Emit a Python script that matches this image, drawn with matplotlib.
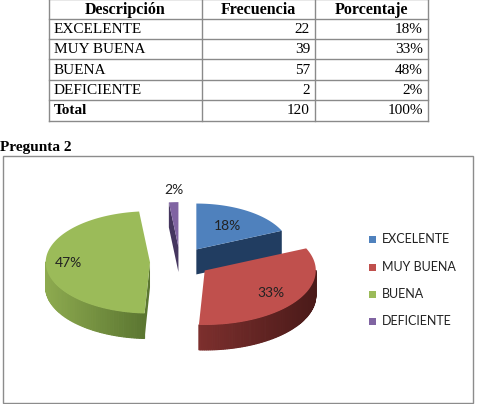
import numpy as np
import matplotlib
matplotlib.use("Agg")
import matplotlib.pyplot as plt
from matplotlib.patches import Polygon, Rectangle
from matplotlib.colors import to_rgb

# data
categorias = ["EXCELENTE", "MUY BUENA", "BUENA", "DEFICIENTE"]
frecuencia = [22, 39, 57, 2]
porcentaje_tabla = ["18%", "33%", "48%", "2%"]
etiquetas_pie = ["18%", "33%", "47%", "2%"]
total_frec = 120
total_pct = "100%"
titulo = "Pregunta 2"

colores = ["#4F81BD", "#C0504D", "#9BBB59", "#8064A2"]
pared_radial = ["#213D61", "#4E1A19", "#5B7631", "#45365F"]
pared_clara = ["#3A5F8F", "#7C2F2D", "#8DAA4F", "#5E4A85"]
pared_oscura = ["#1F3A5C", "#4A1A19", "#5B7631", "#3E2E5E"]

fig = plt.figure(figsize=(4.8, 4.04), dpi=100)
ax = fig.add_axes([0, 0, 1, 1])
ax.set_xlim(0, 480)
ax.set_ylim(404, 0)
ax.axis("off")

# ---- tabla ----
serif = "Liberation Serif"
col_x = [49, 202, 315, 428]
row_y = [-1, 19, 39, 59, 80, 100, 121]
gris = "#8a8a8a"
for x in col_x:
    ax.plot([x, x], [row_y[0], row_y[-1]], color=gris, lw=1)
for y in row_y:
    ax.plot([col_x[0], col_x[-1]], [y, y], color=gris, lw=1)

enc = ["Descripción", "Frecuencia", "Porcentaje"]
for i, t in enumerate(enc):
    ax.text((col_x[i] + col_x[i + 1]) / 2, 10, t, ha="center", va="center",
            family=serif, fontweight="bold", fontsize=11.5)
filas = list(zip(categorias, frecuencia, porcentaje_tabla)) + [("Total", total_frec, total_pct)]
for r, (c, f, p) in enumerate(filas):
    yc = (row_y[r + 1] + row_y[r + 2]) / 2 + 0.5
    ax.text(col_x[0] + 5, yc, c, ha="left", va="center", family=serif, fontsize=11,
            fontweight="bold" if c == "Total" else "normal")
    ax.text(col_x[2] - 5, yc, str(f), ha="right", va="center", family=serif, fontsize=11)
    ax.text(col_x[3] - 5, yc, p, ha="right", va="center", family=serif, fontsize=11)

ax.text(0, 148, titulo, ha="left", va="center", family=serif, fontweight="bold", fontsize=11)

# ---- marco del grafico ----
ax.add_patch(Rectangle((3, 156), 470, 247, fill=False, edgecolor="#8c8c8c", lw=1))

# ---- pastel 3D ----
cx, cy = 180, 262
rx0, ry0 = 104, 51
prof = 25
expl = 30
persp = 0.008
frac_lab = [0.62, 0.72, 0.78, 1.0]

vals = np.array(frecuencia, dtype=float)
angs = vals / vals.sum() * 360
inicio = 90 - np.concatenate([[0], np.cumsum(angs)[:-1]])
fin = inicio - angs


def mezcla(c1, c2, t):
    a, b = np.array(to_rgb(c1)), np.array(to_rgb(c2))
    return tuple(a + (b - a) * t)


porciones = []
for i in range(len(vals)):
    mid = np.radians((inicio[i] + fin[i]) / 2)
    sx = cx + expl * np.cos(mid)
    sy = cy - expl * 0.5 * np.sin(mid)
    porciones.append((sy, i, sx))

for sy, i, sx in sorted(porciones):
    s = 1 + persp * (sy - cy)
    rx, ry = rx0 * s, ry0 * s

    def pt(th):
        t = np.radians(th)
        return (sx + rx * np.cos(t), sy - ry * np.sin(t))

    a0, a1 = inicio[i], fin[i]
    # paredes radiales
    for phi, visible in ((a0, np.cos(np.radians(a0)) < 0), (a1, np.cos(np.radians(a1)) > 0)):
        if visible:
            p = pt(phi)
            ax.add_patch(Polygon([(sx, sy), p, (p[0], p[1] + prof), (sx, sy + prof)],
                                 closed=True, facecolor=pared_radial[i], edgecolor="none"))
    # pared exterior (mitad frontal)
    th = np.linspace(a0, a1, 120)
    segs = [(th[k], th[k + 1]) for k in range(len(th) - 1)
            if np.sin(np.radians((th[k] + th[k + 1]) / 2)) < 0]
    if segs:
        xs = [pt(t)[0] for sg in segs for t in sg]
        xmin, xmax = min(xs), max(xs)
        for t1, t2 in segs:
            q1, q2 = pt(t1), pt(t2)
            u = ((q1[0] + q2[0]) / 2 - xmin) / max(xmax - xmin, 1)
            c = mezcla(pared_clara[i], pared_oscura[i], u)
            ax.add_patch(Polygon([q1, q2, (q2[0], q2[1] + prof), (q1[0], q1[1] + prof)],
                                 closed=True, facecolor=c, edgecolor=c, lw=0.8))
    # cara superior
    arco = [pt(t) for t in th]
    ax.add_patch(Polygon([(sx, sy)] + arco, closed=True, facecolor=colores[i],
                         edgecolor="none"))
    m = np.radians((a0 + a1) / 2)
    lx = sx + rx * frac_lab[i] * np.cos(m)
    ly = sy - ry * frac_lab[i] * np.sin(m) - (12 if i == 3 else 0)
    ax.text(lx, ly, etiquetas_pie[i], ha="center", va="center", family="Lato",
            fontsize=10, color="#222222")

# ---- leyenda ----
ley_y = [239, 267, 294, 321]
for i, c in enumerate(categorias):
    ax.add_patch(Rectangle((369, ley_y[i] - 3.5), 7, 7, facecolor=colores[i], edgecolor="none"))
    ax.text(382, ley_y[i], c, ha="left", va="center", family="Lato", fontsize=9, color="#222222")

fig.savefig("out.png", dpi=100)
